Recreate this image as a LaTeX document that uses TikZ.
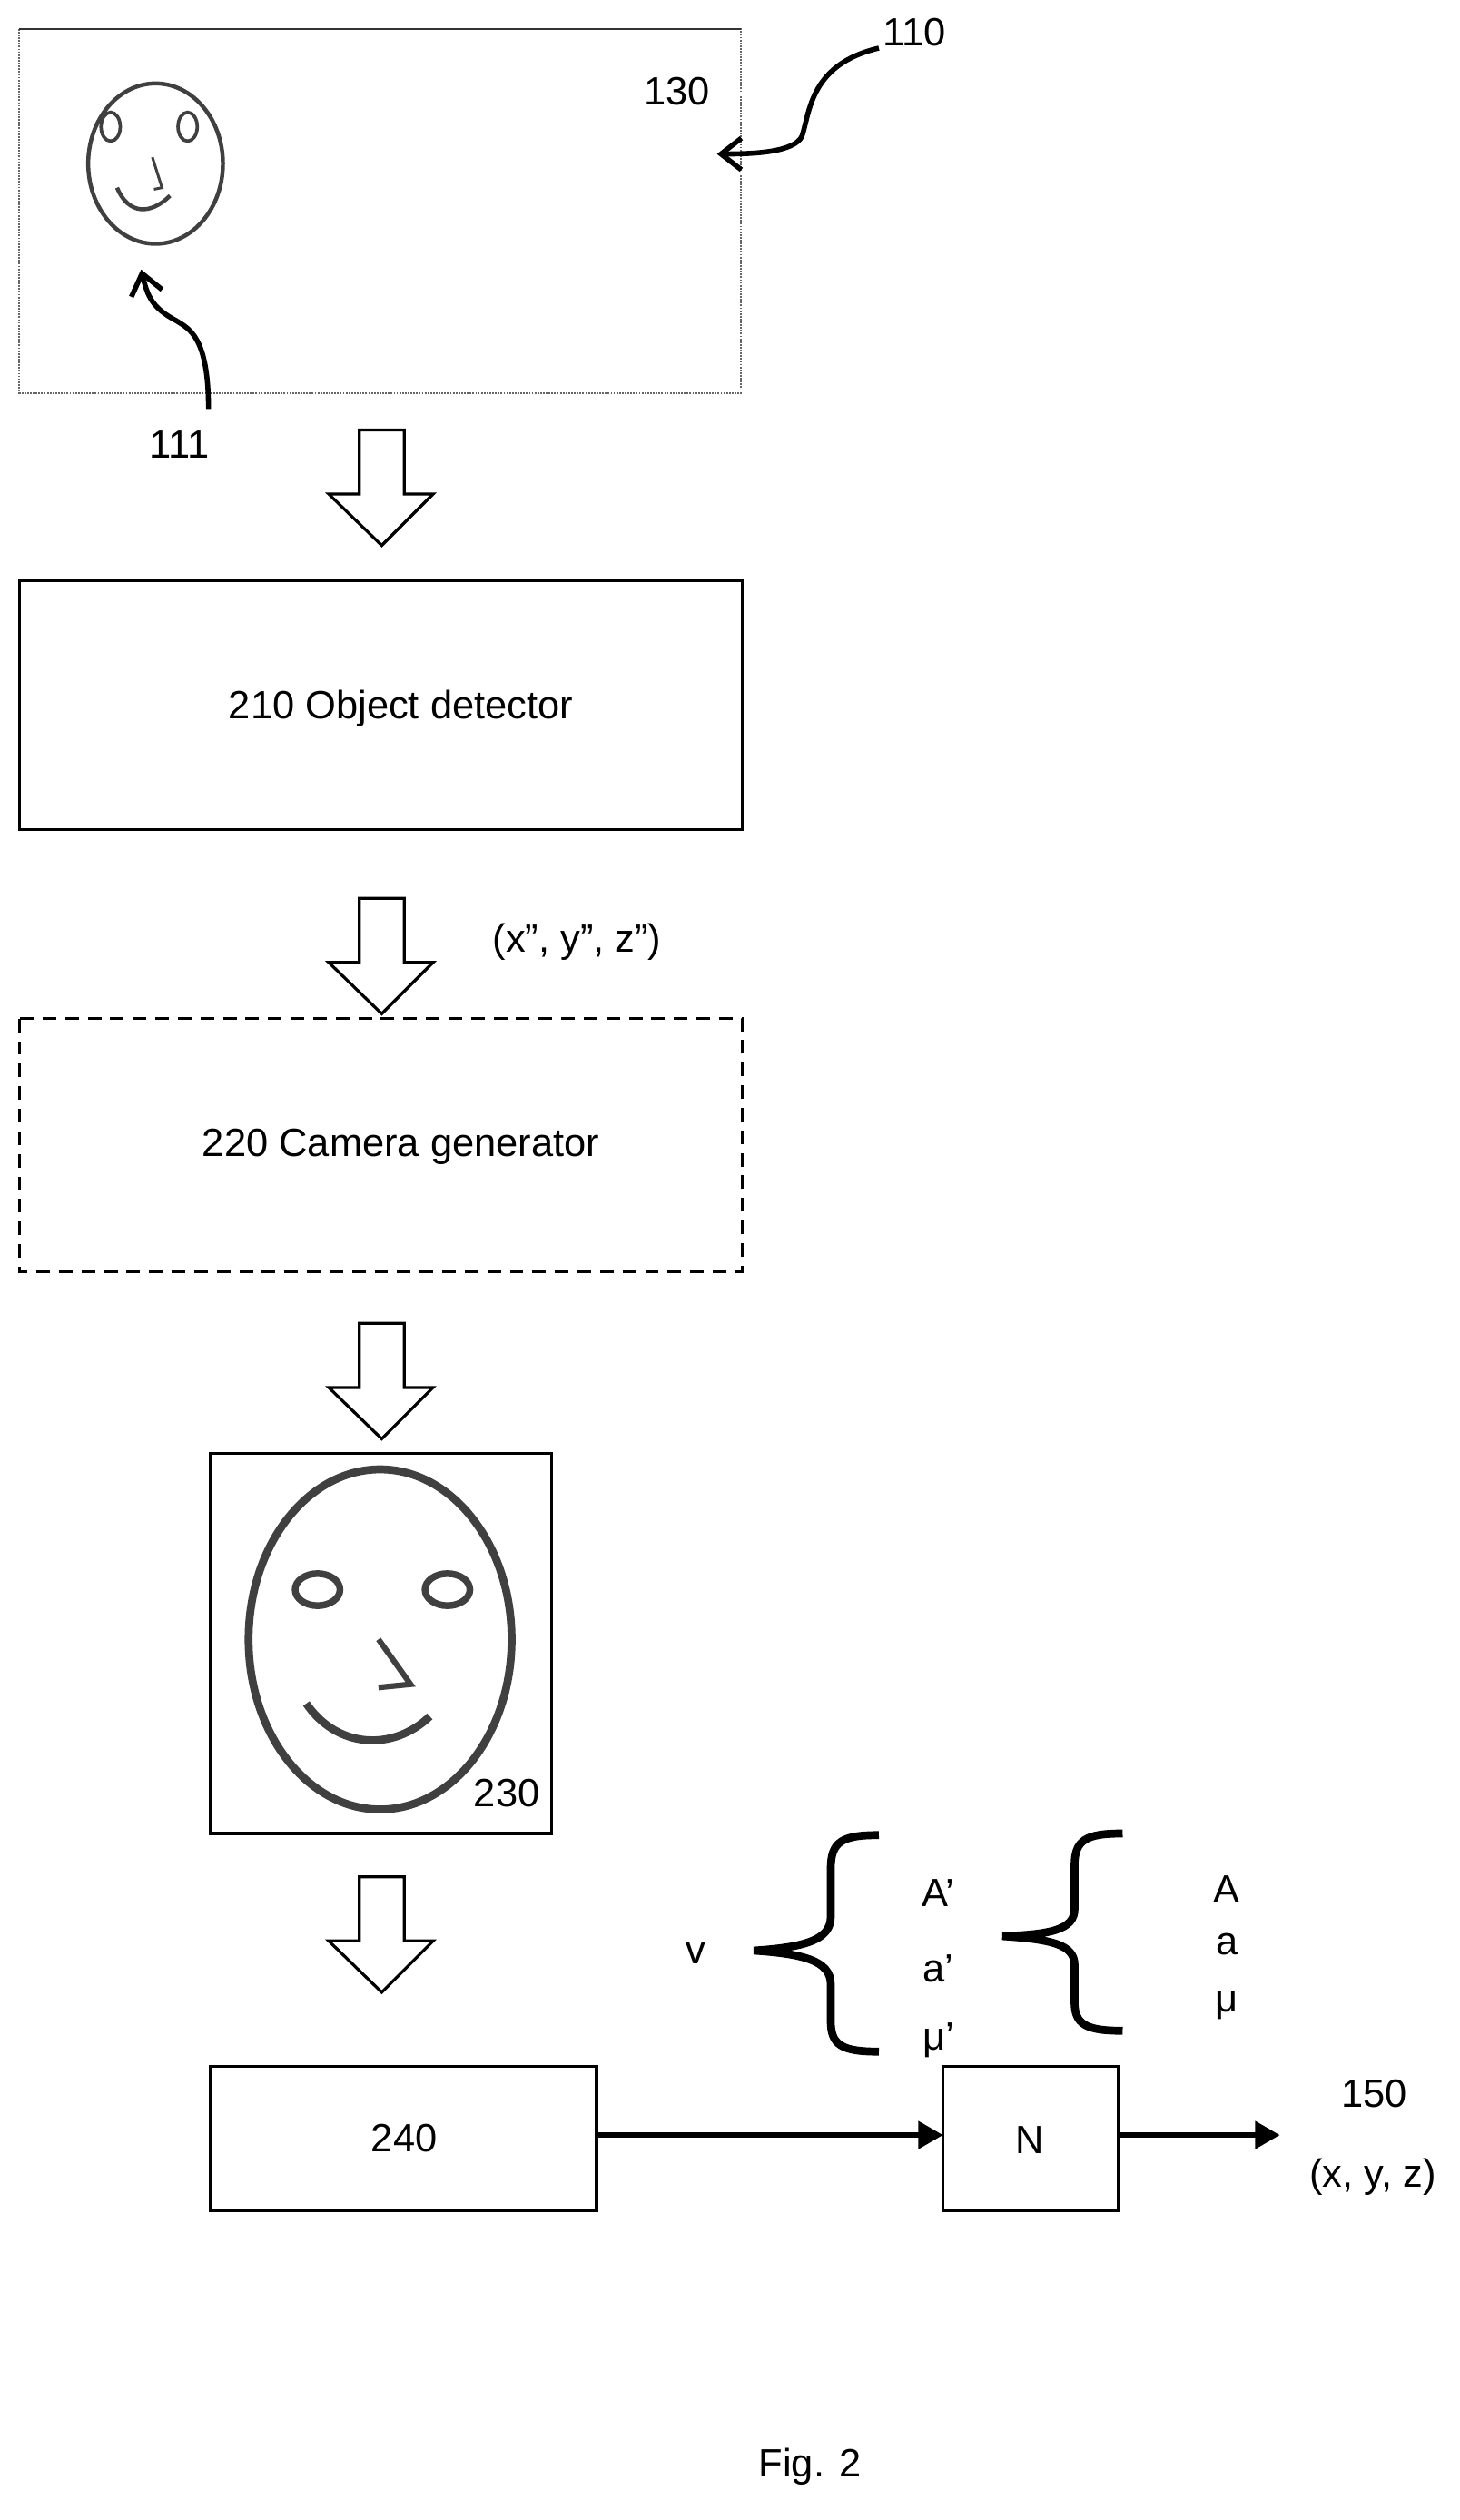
\documentclass[tikz,border=0pt]{standalone}
\usepackage{fontspec}
\setmainfont{Liberation Sans}
\usetikzlibrary{arrows.meta}
\begin{document}
\begin{tikzpicture}[x=0.5mm,y=-0.5mm,
  lbl/.style={font=\fontsize{35}{40}\selectfont,inner sep=0},
  box/.style={draw,line width=2.6pt},
  hol/.style={draw,line width=2.6pt,fill=white},
  face/.style={draw=black!75,line width=3.6pt},
  bigface/.style={draw=black!75,line width=7pt},
  brc/.style={line width=7pt},
  conn/.style={line width=4.5pt,-{Triangle[length=22pt,width=24pt]}}]
\useasboundingbox (0,0) rectangle (910,1571);
% frame 110
\draw[black!60,line width=1.5pt,densely dotted] (12,18) rectangle (462,245);
\draw[black!80,line width=1.5pt] (12,18) -- (462,18);
\node[lbl] (l130) at (422,57) {130};
\node[lbl] (l110) at (570,20) {110};
\node[lbl] (l111) at (112,277) {111};
% small face
\draw[face] (97,102) ellipse [x radius=42,y radius=50];
\draw[face,line width=3pt] (69,79) ellipse [x radius=6,y radius=9];
\draw[face,line width=3pt] (117,79) ellipse [x radius=6,y radius=9];
\draw[face,line width=2.4pt] (95,98) -- (101,117) -- (96,118);
\draw[face] (73,117) .. controls (80,134) and (94,134) .. (106,122);
\coordinate (a110s) at (548,30);
\coordinate (a110e) at (447,96);
\draw[line width=4.5pt,-{Straight Barb[length=18pt,width=28pt]}] (a110s) .. controls (505,40) and (505,70) .. (500,85) .. controls (495,95) and (470,96) .. (a110e);
\coordinate (a111s) at (130,255);
\coordinate (a111e) at (88,168);
\draw[line width=4.5pt,-{Straight Barb[length=18pt,width=28pt]}] (a111s) .. controls (130,210) and (118,205) .. (110,200) .. controls (95,192) and (92,185) .. (a111e);
% hollow arrows
\foreach \t/\n in {268/h1,560/h2,825/h3,1170/h4}{
  \draw[hol] (224,\t) -- (252,\t) -- (252,\t+40) -- (270,\t+40) -- (238,\t+72) -- (205,\t+40) -- (224,\t+40) -- cycle;
}
% boxes
\draw[box] (12,362) rectangle (463,517);
\node[lbl] (b210) at (250,442) {210 Object detector};
\node[lbl,anchor=west] (xyz2) at (307,587) {(x”, y”, z”)};
\draw[box,dash pattern=on 12pt off 8pt] (12,635) rectangle (463,793);
\node[lbl] (b220) at (250,715) {220 Camera generator};
\draw[box] (131,906) rectangle (344,1143);
\node[lbl] (l230) at (316,1118) {230};
% big face
\draw[bigface] (237,1022) ellipse [x radius=82,y radius=106];
\draw[bigface,line width=6pt] (198,991) ellipse [x radius=14,y radius=10];
\draw[bigface,line width=6pt] (279,991) ellipse [x radius=14,y radius=10];
\draw[bigface,line width=5pt] (236,1022) -- (256,1050) -- (236,1052);
\draw[bigface] (191,1062) .. controls (210,1090) and (245,1092) .. (268,1070);
% braces
\node[lbl] (v) at (434,1218) {v};
\draw[brc] (548,1144) .. controls (525,1144) and (518,1148) .. (518,1165) -- (518,1195) .. controls (518,1210) and (500,1214) .. (470,1216) .. controls (500,1218) and (518,1222) .. (518,1237) -- (518,1260) .. controls (518,1275) and (525,1279) .. (548,1279);
\node[lbl] (A1) at (585,1180) {A’};
\node[lbl] (a1) at (585,1227) {a’};
\node[lbl] (m1) at (585,1272) {μ’};
\draw[brc] (700,1143) .. controls (677,1143) and (670,1147) .. (670,1163) -- (670,1190) .. controls (670,1203) and (655,1206) .. (625,1207) .. controls (655,1209) and (670,1212) .. (670,1225) -- (670,1248) .. controls (670,1262) and (677,1266) .. (700,1266);
\node[lbl] (A2) at (765,1178) {A};
\node[lbl] (a2) at (765,1212) {a};
\node[lbl] (m2) at (765,1250) {μ};
% bottom row
\draw[box] (131,1288) rectangle (372,1378);
\node[lbl] (t240) at (252,1333) {240};
\draw[box] (588,1288) rectangle (697,1378);
\node[lbl] (N) at (642,1334) {N};
\coordinate (Nw) at (588,1331);
\coordinate (Ne) at (697,1331);
\coordinate (bE) at (372,1331);
\coordinate (out) at (798,1331);
\draw[conn] (bE) -- (Nw);
\draw[conn] (Ne) -- (out);
\node[lbl] (l150) at (857,1305) {150};
\node[lbl] (xyz) at (856,1357) {(x, y, z)};
\node[lbl] (fig) at (505,1538) {Fig. 2};
\end{tikzpicture}
\end{document}
